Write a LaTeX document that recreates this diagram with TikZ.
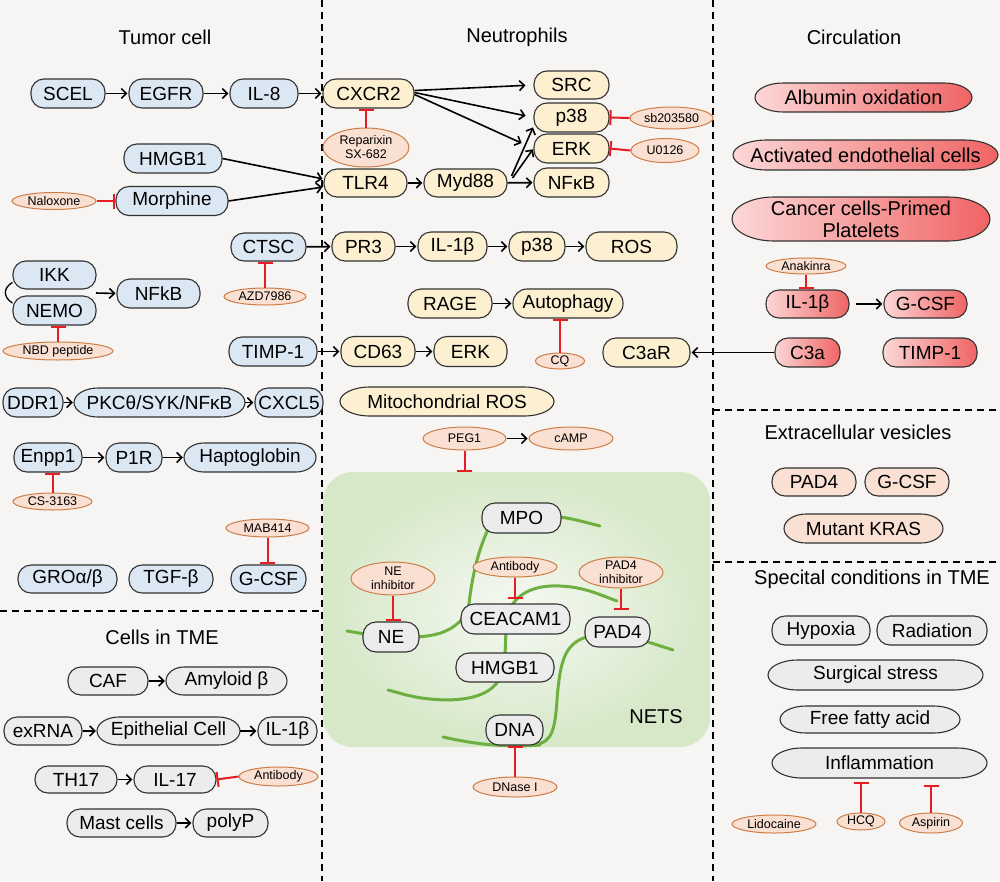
\documentclass[tikz,border=0pt]{standalone}
\usepackage{fontspec}
\setmainfont{Liberation Sans}
\usetikzlibrary{arrows.meta,shapes.geometric}
\definecolor{bgc}{RGB}{246,245,243}
\definecolor{cblue}{RGB}{220,231,244}
\definecolor{cyel}{RGB}{253,240,208}
\definecolor{cgray}{RGB}{236,236,236}
\definecolor{cpeach}{RGB}{250,224,210}
\definecolor{corange}{RGB}{205,125,70}
\definecolor{cred}{RGB}{230,30,35}
\definecolor{ndline}{RGB}{50,50,50}
\definecolor{cgreen}{RGB}{110,175,65}
\definecolor{netin}{RGB}{246,249,243}
\definecolor{netout}{RGB}{214,232,200}
\definecolor{pinkL}{RGB}{252,215,215}
\definecolor{pinkR}{RGB}{240,100,100}
% oval outline: x y w h r
\newcommand\ovl[5]{(#1-#3/2+#5,#2-#4/2) -- (#1+#3/2-#5,#2-#4/2) arc[start angle=-90,end angle=90,x radius=#5,y radius=#4/2] -- (#1-#3/2+#5,#2+#4/2) arc[start angle=90,end angle=270,x radius=#5,y radius=#4/2] -- cycle}
\begin{document}
\begin{tikzpicture}[x=1pt,y=-1pt,
  nd/.style={draw=ndline, line width=1.1pt, rounded corners=13pt, minimum height=29pt, inner sep=0pt, font=\fontsize{19}{22}\selectfont, align=center},
  bl/.style={nd, fill=cblue},
  yl/.style={nd, fill=cyel},
  gy/.style={nd, fill=cgray},
  pk/.style={nd, left color=pinkL, right color=pinkR},
  ev/.style={nd, fill=cpeach},
  osh/.style={draw=ndline, line width=1.1pt},
  otx/.style={inner sep=0pt, minimum height=29pt, font=\fontsize{19}{22}\selectfont, align=center},
  drug/.style={ellipse, draw=corange, line width=1pt, fill=cpeach, inner sep=0pt},
  dlab/.style={font=\fontsize{12.5}{14}\selectfont, align=center, inner sep=0pt},
  ttl/.style={font=\fontsize{20}{22}\selectfont},
  arr/.style={draw=black, line width=1.6pt, -{Straight Barb[length=5pt,width=10pt]}, shorten >=1pt},
  inh/.style={color=cred, line width=2pt, -{Bar[width=15pt,color=cred]}},
  dv/.style={draw=black, line width=1.5pt, dash pattern=on 7pt off 5pt},
  strand/.style={draw=cgreen, line width=3pt, line cap=round},
  netsbox/.style={rounded corners=30pt, inner color=netin, outer color=netout, inner sep=0pt}
]
\useasboundingbox (0,0) rectangle (1000,881);
\fill[bgc] (0,0) rectangle (1000,881);

% dividers
\draw[dv] (322,0) -- (322,881);
\draw[dv] (713,0) -- (713,881);
\draw[dv] (0,611) -- (322,611);
\draw[dv] (713,410) -- (1000,410);
\draw[dv] (713,562) -- (1000,562);

% titles
\node[ttl] (t1) at (165,37) {Tumor cell};
\node[ttl] (t2) at (517,37) {Neutrophils};
\node[ttl] (t3) at (854,37) {Circulation};
\node[ttl] (t4) at (162,637) {Cells in TME};
\node[ttl] (t5) at (858,432) {Extracellular vesicles};
\node[ttl] (t6) at (872,579) {Specital conditions in TME};

% NETS box and strands
\node[netsbox, minimum width=387pt, minimum height=275pt] (nets) at (516.5,609.5) {};
\draw[strand] (560,517) .. controls (575,519) and (588,523) .. (600,526);
\draw[strand] (490,525) .. controls (478,550) and (472,575) .. (468,612);
\draw[strand] (415,637) .. controls (440,636) and (455,630) .. (468,612);
\draw[strand] (347,631) -- (365,634);
\draw[strand] (512,605) .. controls (522,590) and (540,585) .. (560,586) .. controls (585,587) and (600,595) .. (617,601);
\draw[strand] (506,630) -- (505,656);
\draw[strand] (500,678) .. controls (490,698) and (460,702) .. (430,699) .. controls (410,697) and (400,693) .. (388,690);
\draw[strand] (590,636) .. controls (565,642) and (560,660) .. (557,700) .. controls (555,730) and (552,742) .. (535,745);
\draw[strand] (443,737) .. controls (470,743) and (500,748) .. (540,745);
\draw[strand] (645,641) -- (673,650);
\node[font=\fontsize{20}{22}\selectfont] (netslbl) at (656,717) {NETS};

% oval outlines (elongated ends)
\path[osh, fill=cblue] \ovl{159.5}{402.5}{171}{29}{24};
\path[osh, fill=cblue] \ovl{250}{457.5}{132}{29}{20};
\path[osh, fill=cgray] \ovl{226.5}{681}{121}{28}{18};
\path[osh, fill=cgray] \ovl{168.5}{731}{143}{28}{22};
\path[osh, fill=cyel] \ovl{447}{401.5}{214}{29}{30};
\path[osh, left color=pinkL, right color=pinkR] \ovl{863.5}{97.5}{217}{29}{28};
\path[osh, left color=pinkL, right color=pinkR] \ovl{865.5}{155}{265}{30}{34};
\path[osh, left color=pinkL, right color=pinkR] \ovl{861}{219}{258}{44}{42};
\path[osh, fill=cpeach] \ovl{863.5}{528.5}{159}{29}{22};
\path[osh, fill=cgray] \ovl{875.5}{675}{215}{30}{30};
\path[osh, fill=cgray] \ovl{870}{719.5}{180}{27}{26};
\path[osh, fill=cgray] \ovl{879.5}{763}{215}{30}{30};

% Tumor cell nodes
\node[bl, minimum width=74pt] (scel) at (68,93.5) {SCEL};
\node[bl, minimum width=74pt] (egfr) at (166,93.5) {EGFR};
\node[bl, minimum width=68pt] (ileight) at (264,93.5) {IL-8};
\node[bl, minimum width=98pt] (hmgbt) at (173,158.5) {HMGB1};
\node[bl, minimum width=112pt] (morph) at (172,201) {Morphine};
\node[bl, minimum width=75pt, minimum height=28pt] (ctsc) at (268.5,247) {CTSC};
\node[bl, minimum width=83pt, minimum height=28pt] (ikk) at (54.5,275) {IKK};
\node[bl, minimum width=83pt] (nemo) at (54.5,310.5) {NEMO};
\node[bl, minimum width=83pt] (nfkbt) at (158.5,293.5) {NFkB};
\node[bl, minimum width=88pt] (timp) at (273,351.5) {TIMP-1};
\node[bl, minimum width=60pt] (ddr) at (33,402.5) {DDR1};
\node[otx, minimum width=171pt] (pkc) at (159.5,402.5) {PKCθ/SYK/NFκB};
\node[bl, minimum width=68pt] (cxcl) at (289,402.5) {CXCL5};
\node[bl, minimum width=68pt] (enpp) at (48,457.5) {Enpp1};
\node[bl, minimum width=56pt] (pir) at (134,457.5) {P1R};
\node[otx, minimum width=132pt] (hapto) at (250,457.5) {Haptoglobin};
\node[bl, minimum width=99pt, minimum height=28pt] (gro) at (67.5,579) {GROα/β};
\node[bl, minimum width=84pt, minimum height=28pt] (tgf) at (171,579) {TGF-β};
\node[bl, minimum width=75pt, minimum height=28pt] (gcsft) at (268.5,579) {G-CSF};

\node[drug, minimum width=84pt, minimum height=17pt, label={[dlab]center:Naloxone}] (nalox) at (54,201) {};
\node[drug, minimum width=82pt, minimum height=17pt, label={[dlab]center:AZD7986}] (azd) at (265,296.5) {};
\node[drug, minimum width=110pt, minimum height=18pt, label={[dlab]center:NBD peptide}] (nbd) at (58,351) {};
\node[drug, minimum width=79pt, minimum height=17pt, label={[dlab]center:CS-3163}] (cs) at (52.5,501.5) {};
\node[drug, minimum width=83pt, minimum height=18pt, label={[dlab]center:MAB414}] (mab) at (267.5,528) {};

% Cells in TME
\node[gy, minimum width=80pt, minimum height=28pt] (caf) at (108,681) {CAF};
\node[otx, minimum width=121pt, minimum height=28pt] (amy) at (226.5,681) {Amyloid β};
\node[gy, minimum width=78pt, minimum height=28pt] (exrna) at (43,731) {exRNA};
\node[otx, minimum width=143pt, minimum height=28pt] (epi) at (168.5,731) {Epithelial Cell};
\node[gy, minimum width=59pt, minimum height=28pt] (ilb) at (287.5,731) {IL-1β};
\node[gy, minimum width=82pt, minimum height=27pt] (th) at (76,779.5) {TH17};
\node[gy, minimum width=82pt, minimum height=27pt] (ilsv) at (175,779.5) {IL-17};
\node[gy, minimum width=109pt, minimum height=28pt] (mast) at (121.5,823) {Mast cells};
\node[gy, minimum width=75pt, minimum height=28pt] (polyp) at (230.5,823) {polyP};
\node[drug, minimum width=79pt, minimum height=19pt, label={[dlab]center:Antibody}] (abt) at (278.5,776.5) {};

% Neutrophils
\node[yl, minimum width=91pt] (cxcr) at (368.5,93.5) {CXCR2};
\node[yl, minimum width=75pt, minimum height=28pt] (src) at (571.5,85) {SRC};
\node[yl, minimum width=75pt] (pa) at (571.5,117.5) {p38};
\node[yl, minimum width=75pt] (erka) at (571.5,148.5) {ERK};
\node[yl, minimum width=75pt] (nfkbn) at (571.5,182.5) {NFκB};
\node[yl, minimum width=83pt, minimum height=28pt] (tlr) at (365.5,183) {TLR4};
\node[yl, minimum width=83pt, minimum height=28pt] (myd) at (465.5,183) {Myd88};
\node[yl, minimum width=63pt] (pr) at (363.5,246.5) {PR3};
\node[yl, minimum width=69pt] (ilbn) at (452.5,246.5) {IL-1β};
\node[yl, minimum width=56pt] (pb) at (537,246.5) {p38};
\node[yl, minimum width=91pt] (ros) at (631.5,246.5) {ROS};
\node[yl, minimum width=84pt] (rage) at (450,303.5) {RAGE};
\node[yl, minimum width=110pt, rounded corners=14pt] (auto) at (568,303.5) {Autophagy};
\node[yl, minimum width=74pt, minimum height=30pt] (cd) at (378,351.5) {CD63};
\node[yl, minimum width=73pt, minimum height=30pt] (erkb) at (470.5,351.5) {ERK};
\node[yl, minimum width=87pt] (cthr) at (646.5,352.5) {C3aR};
\node[otx, minimum width=214pt] (mros) at (447,401.5) {Mitochondrial ROS};

\node[drug, minimum width=86pt, minimum height=39pt, label={[dlab]center:{Reparixin\\SX-682}}] (rep) at (366,147.5) {};
\node[drug, minimum width=83pt, minimum height=22pt, label={[dlab]center:sb203580}] (sb) at (671.5,118) {};
\node[drug, minimum width=68pt, minimum height=24pt, label={[dlab]center:U0126}] (uo) at (665,150.5) {};
\node[drug, minimum width=49pt, minimum height=16pt, label={[dlab]center:CQ}] (cq) at (560,361) {};
\node[drug, minimum width=83pt, minimum height=23pt, label={[dlab]center:PEG1}] (peg) at (464.5,438.5) {};
\node[drug, minimum width=84pt, minimum height=23pt, label={[dlab]center:cAMP}] (camp) at (571,438.5) {};

% NETS nodes
\node[gy, minimum width=79pt, minimum height=30pt] (mpo) at (521.5,518) {MPO};
\node[gy, minimum width=109pt, minimum height=30pt] (cea) at (515.5,619) {CEACAM1};
\node[gy, minimum width=56pt, minimum height=30pt] (ne) at (391,637) {NE};
\node[gy, minimum width=98pt] (hmgbn) at (505,667.5) {HMGB1};
\node[gy, minimum width=65pt, minimum height=30pt] (padn) at (617.5,632) {PAD4};
\node[gy, minimum width=57pt, minimum height=30pt] (dna) at (514.5,730) {DNA};
\node[drug, minimum width=84pt, minimum height=33pt, label={[dlab]center:{NE\\inhibitor}}] (neinh) at (393,578.5) {};
\node[drug, minimum width=84pt, minimum height=20pt, label={[dlab]center:Antibody}] (abn) at (515,567) {};
\node[drug, minimum width=84pt, minimum height=31pt, label={[dlab]center:{PAD4\\inhibitor}}] (padinh) at (621,572.5) {};
\node[drug, minimum width=84pt, minimum height=20pt, label={[dlab]center:DNase I}] (dnase) at (515,787) {};

% Circulation
\node[otx, minimum width=217pt, font=\fontsize{20}{22}\selectfont] (alb) at (863.5,97.5) {Albumin oxidation};
\node[otx, minimum width=265pt, minimum height=30pt, font=\fontsize{20}{22}\selectfont] (act) at (865.5,155) {Activated endothelial cells};
\node[otx, minimum width=258pt, minimum height=44pt, font=\fontsize{20}{22}\selectfont] (canc) at (861,219) {Cancer cells-Primed\\Platelets};
\node[pk, minimum width=83pt, minimum height=28pt] (ilbc) at (807.5,304) {IL-1β};
\node[pk, minimum width=83pt, minimum height=28pt] (gcsfc) at (925.5,304) {G-CSF};
\node[pk, minimum width=65pt] (cthree) at (807.5,352.5) {C3a};
\node[pk, minimum width=94pt] (timpc) at (930,352.5) {TIMP-1};
\node[drug, minimum width=80pt, minimum height=16pt, label={[dlab]center:Anakinra}] (ana) at (806,266) {};

% Extracellular vesicles
\node[ev, minimum width=84pt, minimum height=28pt] (pade) at (814,482) {PAD4};
\node[ev, minimum width=84pt, minimum height=28pt] (gcsfe) at (907,482) {G-CSF};
\node[otx, minimum width=159pt] (kras) at (863.5,528.5) {Mutant KRAS};

% Special conditions
\node[gy, minimum width=98pt] (hyp) at (821,630.5) {Hypoxia};
\node[gy, minimum width=110pt] (rad) at (932,630.5) {Radiation};
\node[otx, minimum width=215pt, minimum height=30pt] (surg) at (875.5,675) {Surgical stress};
\node[otx, minimum width=180pt, minimum height=27pt] (ffa) at (870,719.5) {Free fatty acid};
\node[otx, minimum width=215pt, minimum height=30pt] (infl) at (879.5,763) {Inflammation};
\node[drug, minimum width=84pt, minimum height=18pt, label={[dlab]center:Lidocaine}] (lido) at (774,824) {};
\node[drug, minimum width=48pt, minimum height=17pt, label={[dlab]center:HCQ}] (hcq) at (861,821.5) {};
\node[drug, minimum width=63pt, minimum height=20pt, label={[dlab]center:Aspirin}] (asp) at (931,823) {};

% connectors: tumor
\draw[arr] (scel) -- (egfr);
\draw[arr] (egfr) -- (ileight);
\draw[arr] (ileight) -- (cxcr);
\draw[arr] (hmgbt.east) -- ([yshift=4pt]tlr.west);
\draw[arr] (morph.east) -- ([yshift=-4pt]tlr.west);
\draw[inh] (nalox.east) -- (morph.west);
\draw[arr] (ctsc) -- (pr);
\draw[inh] (azd.north) -- (azd.north |- ctsc.south);
\draw[line width=1.3pt] (ikk.190) .. controls (3,288) and (3,297) .. (nemo.170);
\coordinate (iknm) at (96,293);
\draw[arr] (iknm) -- (nfkbt.west);
\draw[inh] (nbd.north) -- (nbd.north |- nemo.south);
\draw[arr] (timp) -- (cd);
\draw[arr] (ddr) -- (pkc);
\draw[arr] (pkc) -- (cxcl);
\draw[arr] (enpp) -- (pir);
\draw[arr] (pir) -- (hapto);
\draw[inh] (cs.north) -- (cs.north |- enpp.south);
\draw[inh] (mab.south) -- (mab.south |- gcsft.north);

% connectors: cells in TME
\draw[arr] (caf) -- (amy);
\draw[arr] (exrna) -- (epi);
\draw[arr] (epi) -- (ilb);
\draw[arr] (th) -- (ilsv);
\draw[inh] (abt.west) -- (ilsv.east);
\draw[arr] (mast) -- (polyp);

% connectors: neutrophils
\draw[arr, shorten >=8pt] ([yshift=3pt]cxcr.east) -- (src.west);
\draw[arr, shorten >=8pt] ([yshift=1pt]cxcr.east) -- (pa.west);
\draw[arr, shorten >=13pt] ([yshift=-1pt]cxcr.east) -- (erka.west);
\draw[inh] (rep.north) -- (rep.north |- cxcr.south);
\draw[arr] (tlr) -- (myd);
\draw[arr] (myd) -- (nfkbn);
\draw[arr] ([xshift=4pt,yshift=7pt]myd.east) -- ([yshift=-9pt]pa.west);
\draw[arr] ([xshift=5pt,yshift=5pt]myd.east) -- (erka.west);
\draw[inh] (sb.west) -- (pa.east);
\draw[inh] (uo.west) -- (erka.east);
\draw[arr] (pr) -- (ilbn);
\draw[arr] (ilbn) -- (pb);
\draw[arr] (pb) -- (ros);
\draw[arr] (rage) -- (auto);
\draw[inh] (cq.north) -- (cq.north |- auto.south);
\draw[arr] (cd) -- (erkb);
\draw[arr] (cthree) -- (cthr);
\draw[arr] (peg) -- (camp);
\draw[inh] (peg.south) -- (peg.south |- nets.north);

% NETS inhibitors
\draw[inh] (neinh.south) -- (neinh.south |- ne.north);
\draw[inh, shorten >=4pt] (abn.south) -- (abn.south |- cea.north);
\draw[inh] (padinh.south) -- ([yshift=6pt]padinh.south |- padn.north);
\draw[inh] (dnase.north) -- (dnase.north |- dna.south);

% circulation
\draw[inh] (ana.south) -- (ana.south |- ilbc.north);
\draw[arr, shorten <=6pt] (ilbc) -- (gcsfc);

% special
\draw[inh, shorten >=4pt] (hcq.north) -- (hcq.north |- infl.south);
\draw[inh, shorten >=7pt] (asp.north) -- (asp.north |- infl.south);
\end{tikzpicture}
\end{document}
